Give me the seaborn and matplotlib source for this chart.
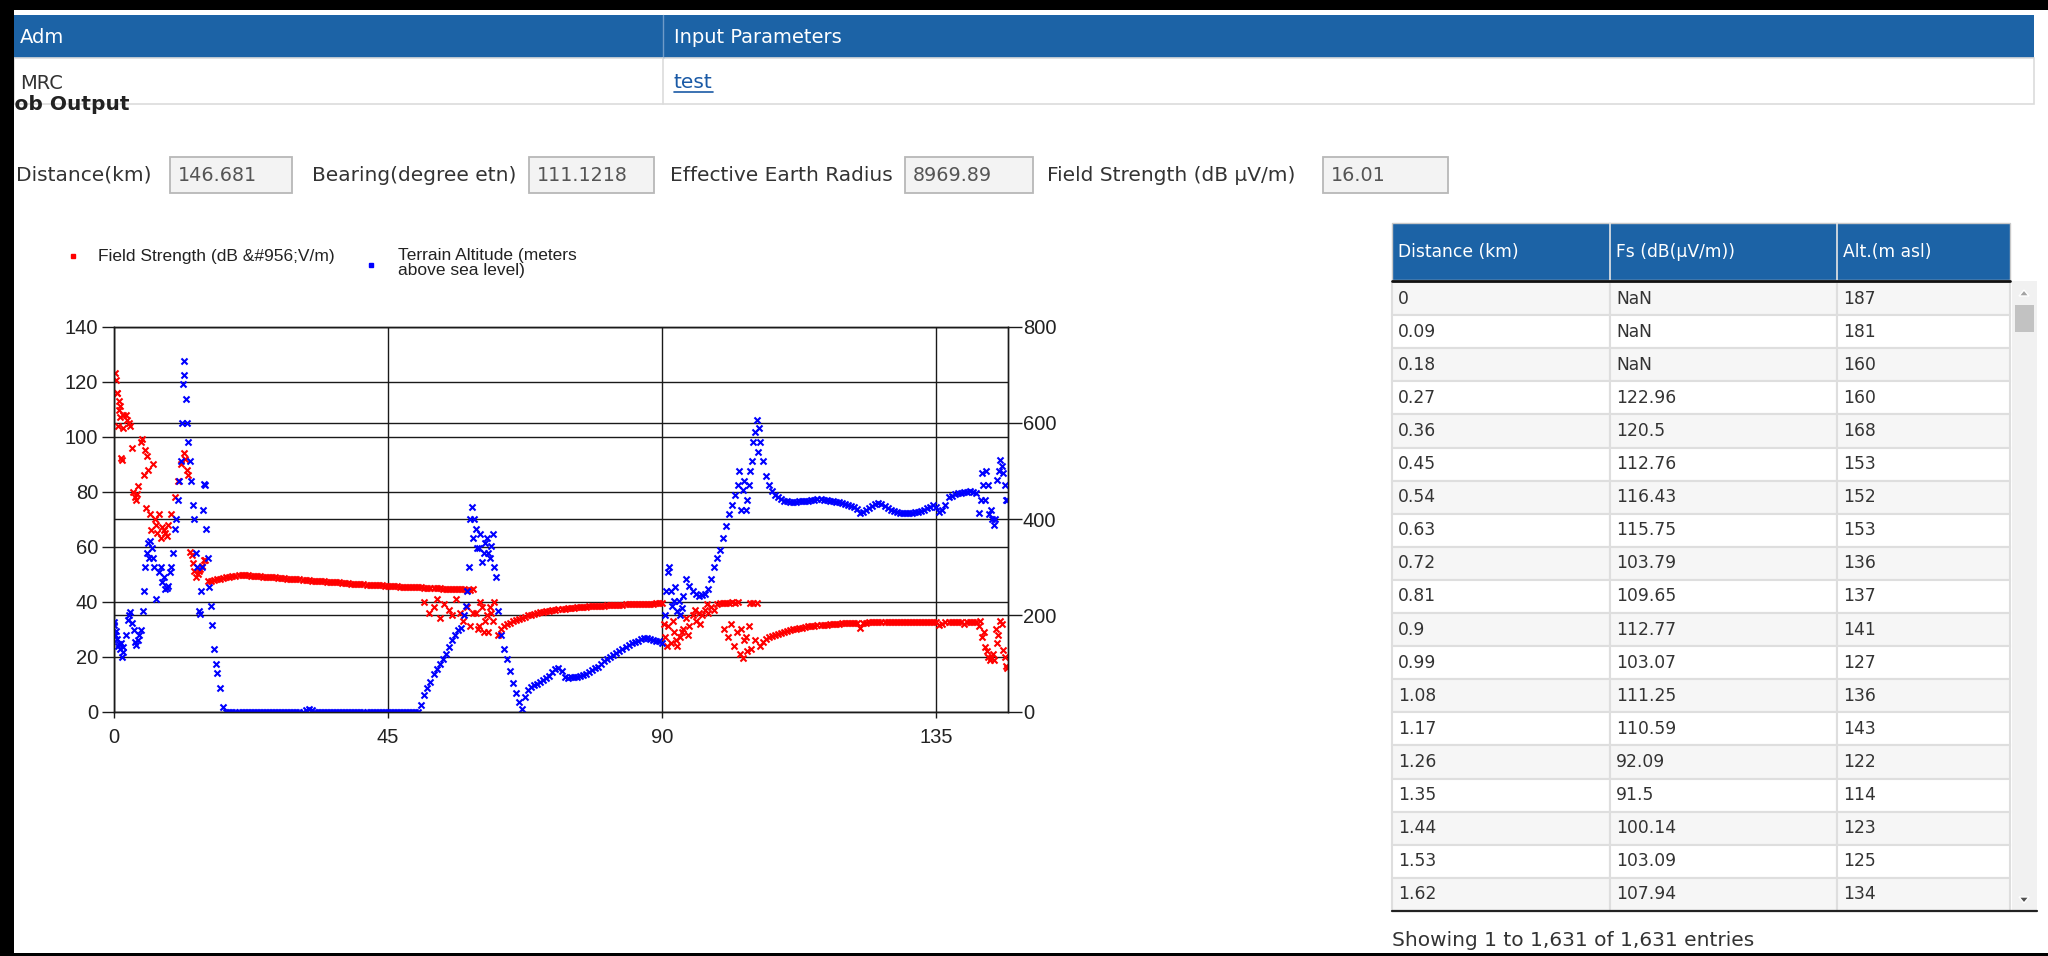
import numpy as np
import pandas as pd
import matplotlib
matplotlib.use("Agg")
import matplotlib.pyplot as plt
from matplotlib.patches import Rectangle, Polygon
import seaborn as sns

# ---------------- values ----------------
header_cols = ["Adm", "Input Parameters"]
header_vals = ["MRC", "test"]

param_labels = ["Distance(km)", "Bearing(degree etn)", "Effective Earth Radius",
                "Field Strength (dB µV/m)"]
param_values = ["146.681", "111.1218", "8969.89", "16.01"]

table_cols = ["Distance (km)", "Fs (dB(µV/m))", "Alt.(m asl)"]
table_dist = ["0", "0.09", "0.18", "0.27", "0.36", "0.45", "0.54", "0.63", "0.72", "0.81",
              "0.9", "0.99", "1.08", "1.17", "1.26", "1.35", "1.44", "1.53", "1.62"]
table_fs = ["NaN", "NaN", "NaN", "122.96", "120.5", "112.76", "116.43", "115.75", "103.79",
            "109.65", "112.77", "103.07", "111.25", "110.59", "92.09", "91.5", "100.14",
            "103.09", "107.94"]
table_alt = ["187", "181", "160", "160", "168", "153", "152", "153", "136", "137", "141",
             "127", "136", "143", "122", "114", "123", "125", "134"]
entries_note = "Showing 1 to 1,631 of 1,631 entries"

# profile sampled every 0.5 km (0 .. 146.5 km)
step_km = 0.5
total_km = 146.681
fs_db = [
    np.nan, 116, 107, 103, 108, 105, 96, 78, 82, 98,
    86, 93, 72, 90, 68, 72, 67, 65, 68, 72,
    78, 84, 90, 94, 88, 58, 54, 49, 51, 53,
    55, 47.5, 47.5, 48, 48.2, 48.4, 48.6, 48.8, 49, 49.2,
    49.5, 49.6, 49.7, 49.7, 49.6, 49.5, 49.4, 49.3, 49.2, 49.1,
    49.0, 48.9, 48.9, 48.8, 48.7, 48.6, 48.5, 48.4, 48.3, 48.2,
    48.2, 48.1, 48.0, 47.9, 47.8, 47.7, 47.6, 47.5, 47.4, 47.4,
    47.3, 47.2, 47.1, 47.0, 47.0, 46.9, 46.8, 46.7, 46.6, 46.5,
    46.5, 46.4, 46.3, 46.2, 46.2, 46.1, 46.0, 45.9, 45.9, 45.8,
    45.7, 45.7, 45.6, 45.6, 45.5, 45.5, 45.4, 45.4, 45.3, 45.3,
    45.2, 45.2, 45.1, 45.1, 45.0, 45.0, 44.9, 44.9, 44.8, 44.8,
    44.7, 44.7, 44.6, 44.6, 44.5, 44.5, 44.4, 44.4, 44.6, 36,
    31, 38, 33, 29, 36, 40, 28, 30, 31, 31.8,
    32.4, 32.9, 33.3, 33.7, 34.1, 34.5, 35.0, 35.3, 35.6, 35.9,
    36.2, 36.4, 36.6, 36.8, 37.0, 37.1, 37.3, 37.4, 37.5, 37.6,
    37.7, 37.8, 37.9, 38.0, 38.1, 38.2, 38.3, 38.3, 38.4, 38.5,
    38.5, 38.6, 38.7, 38.7, 38.8, 38.8, 38.9, 38.9, 39.0, 39.0,
    39.1, 39.1, 39.2, 39.2, 39.2, 39.3, 39.3, 39.3, 39.4, 39.4,
    39.4, 27, 31, 25, 29, 24, 27, 30, 34, 31,
    35, 33, 36, 35, 37, 36, 38, 37, 39, 39.6,
    39.7, 39.6, 39.7, 39.8, 39.7, 39.8, 30, 26, 22, 39.6,
    39.7, 39.6, 24, 25.5, 26.4, 27.0, 27.5, 28.0, 28.4, 28.8,
    29.1, 29.4, 29.7, 30.0, 30.2, 30.4, 30.6, 30.8, 31.0, 31.1,
    31.3, 31.4, 31.5, 31.6, 31.7, 31.8, 31.9, 32.0, 32.0, 32.1,
    32.2, 32.2, 32.3, 32.3, 32.3, 30.5, 32.4, 32.4, 32.5, 32.5,
    32.5, 32.6, 32.6, 32.6, 32.6, 32.7, 32.7, 32.7, 32.7, 32.7,
    32.7, 32.7, 32.7, 32.7, 32.7, 32.7, 32.7, 32.7, 32.7, 32.7,
    32.6, 31.5, 32.0, 32.6, 32.6, 32.7, 32.7, 32.7, 32.6, 31.8,
    32.6, 32.6, 32.6, 32.6, 31, 27, 23.6, 20, 19.4, 18.8,
    25, 33, 22.4, 16.5,
]
alt_m = [
    187, 152, 130, 124, 160, 200, 185, 145, 150, 170,
    250, 330, 355, 320, 235, 290, 270, 256, 262, 300,
    380, 440, 520, 700, 600, 520, 430, 330, 210, 300,
    470, 320, 220, 130, 80, 50, 10, 0, 0, 0,
    0, 0, 0, 0, 0, 0, 0, 0, 0, 0,
    0, 0, 0, 0, 0, 0, 0, 0, 0, 0,
    0, 0, 0, 3, 5, 3, 0, 0, 0, 0,
    0, 0, 0, 0, 0, 0, 0, 0, 0, 0,
    0, 0, 0, 0, 0, 0, 0, 0, 0, 0,
    0, 0, 0, 0, 0, 0, 0, 0, 0, 0,
    0, 15, 35, 50, 62, 78, 88, 100, 110, 120,
    135, 150, 160, 170, 175, 200, 250, 400, 360, 380,
    340, 310, 350, 330, 345, 300, 210, 160, 130, 110,
    85, 60, 40, 20, 5, 30, 45, 52, 55, 58,
    62, 66, 70, 75, 82, 88, 90, 85, 72, 70,
    72, 73, 73, 74, 76, 79, 82, 86, 90, 94,
    100, 105, 110, 114, 118, 123, 127, 131, 135, 138,
    142, 145, 148, 151, 153, 153, 152, 150, 148, 146,
    142, 200, 290, 250, 230, 210, 200, 240, 275, 262,
    250, 245, 240, 242, 245, 255, 275, 300, 320, 335,
    360, 385, 410, 430, 450, 470, 420, 480, 440, 500,
    560, 605, 560, 520, 490, 470, 458, 450, 445, 441,
    438, 437, 436, 436, 436, 437, 437, 438, 438, 439,
    440, 441, 441, 440, 439, 438, 437, 436, 435, 433,
    432, 430, 428, 425, 422, 412, 415, 420, 424, 428,
    432, 434, 432, 428, 424, 420, 417, 414, 413, 412,
    412, 412, 413, 414, 415, 417, 420, 423, 426, 429,
    425, 415, 418, 430, 445, 448, 452, 454, 455, 456,
    457, 458, 457, 455, 412, 495, 440, 470, 420, 388,
    481, 523, 495, 440,
]

# extra scattered samples in the noisy stretches
fs_extra_km = [0.27, 0.36, 0.63, 0.72, 0.81, 0.9, 1.08, 1.26, 1.35, 1.62, 2.2, 2.7, 3.2, 3.7,
               3.9, 4.7, 5.2, 5.7, 5.3, 6.2, 6.8, 7.2, 7.7, 8.2, 8.8, 11.7, 12.2, 12.8, 13.2,
               13.8, 14.2, 14.8,
               51, 51.8, 52.5, 53, 53.5, 54.2, 55, 55.5, 56.2, 56.8, 57.4, 58, 58.5, 59,
               59.8, 60.2, 60.8, 61.2, 61.8, 62.3,
               90.3, 90.8, 91.8, 92.3, 93.2, 94.3, 95.4, 96.2, 97.4,
               100.2, 100.8, 101.3, 101.8, 102.3, 102.8, 103.2, 103.8, 104.2, 104.6, 105.2,
               142.2, 142.8, 143.3, 143.8, 144.3, 144.8, 145.2, 145.8, 146.2, 146.68]
fs_extra_db = [122.96, 120.5, 115.75, 103.79, 109.65, 112.77, 111.25, 92.09, 91.5, 107.94,
               106, 104, 80, 77, 79, 99, 95, 88, 74, 66, 70, 65, 63, 66, 64, 92, 86, 57, 51,
               50, 52, 55,
               40, 36, 38, 41, 34, 39, 37, 35, 41, 36, 33, 38, 31, 36,
               30, 40, 29, 35, 38, 33,
               32, 24, 33, 26, 29, 28, 37, 32, 39,
               30, 27, 32, 24, 29, 21, 19.5, 27, 31, 23, 26,
               33, 29, 22, 19, 21, 30, 28, 32, 20, 16.01]
alt_extra_km = [0.09, 0.18, 0.27, 0.36, 0.72, 0.9, 1.17, 1.35, 1.62, 2.3, 2.7, 3.3, 3.7, 4.2,
                4.8, 5.2, 5.6, 5.8, 6.3, 6.6, 7.7, 8.2, 8.8, 9.2, 9.7, 10.2, 10.7, 11.2, 11.4,
                11.6, 11.8, 12.2, 12.7, 13.2, 13.7, 14.1, 14.3, 14.7, 14.9, 15.2, 15.7, 16.2,
                16.8,
                57.8, 58.3, 58.8, 59.2, 59.7, 60.2, 60.7, 61.3, 61.8, 62.2, 62.7,
                90.7, 91.2, 91.7, 92.2, 92.8, 93.3,
                102.7, 103.2, 103.7, 104.2, 104.7, 105.2, 105.7, 105.9,
                142.3, 142.7, 143.2, 143.7, 144.2, 144.7, 145.3, 145.7, 146.3, 146.68]
alt_extra_m = [181, 160, 160, 168, 136, 141, 143, 114, 134, 190, 208, 170, 138, 160,
               210, 300, 350, 320, 340, 300, 300, 280, 258, 290, 330, 400, 480, 600, 680,
               729, 650, 560, 480, 400, 300, 204, 250, 420, 474, 380, 260, 180,
               100,
               220, 300, 426, 400, 340, 370, 330, 360, 320, 370, 280,
               250, 301, 220, 260, 230, 215,
               500, 460, 420, 470, 520, 580, 540, 590,
               440, 470, 500, 410, 400, 400, 500, 510, 470, 440]

fs_df = pd.concat([
    pd.DataFrame({"km": np.arange(len(fs_db)) * step_km, "fs": fs_db}),
    pd.DataFrame({"km": fs_extra_km, "fs": fs_extra_db}),
]).dropna()
alt_df = pd.concat([
    pd.DataFrame({"km": np.arange(len(alt_m)) * step_km, "alt": alt_m}),
    pd.DataFrame({"km": alt_extra_km, "alt": alt_extra_m}),
])

# ---------------- page ----------------
sns.set_theme(style="white")
plt.rcParams["font.family"] = ["DejaVu Sans"]

BLUE = "#1c63a6"
TXT = "#333333"

fig = plt.figure(figsize=(20.48, 9.56), dpi=100)
page = fig.add_axes([0, 0, 1, 1])
page.set_xlim(0, 2048)
page.set_ylim(956, 0)
page.axis("off")


def box(x0, y0, x1, y1, **kw):
    page.add_patch(Rectangle((x0, y0), x1 - x0, y1 - y0, **kw))


# header table
box(14, 15, 2034, 58, fc=BLUE, ec="none")
page.plot([663, 663], [15, 58], color="#6f9bc8", lw=1)
box(14, 58, 2034, 104, fc="white", ec="#dcdcdc", lw=1.2)
page.plot([663, 663], [58, 104], color="#dcdcdc", lw=1.2)
page.text(20, 37, header_cols[0], color="white", fontsize=14, va="center")
page.text(674, 37, header_cols[1], color="white", fontsize=14, va="center")
page.text(20, 83, header_vals[0], color=TXT, fontsize=14, va="center")
page.text(674, 82, header_vals[1], color="#1a5aa6", fontsize=14.5, va="center")
page.plot([674, 713], [92, 92], color="#1a5aa6", lw=1.2)
page.text(7, 104, "Job Output", color="#222222", fontsize=14.5, fontweight="bold",
          va="center")

# input parameter boxes
label_x = [16, 312, 670, 1047]
box_x = [(170, 292), (529, 654), (905, 1033), (1323, 1448)]
for lab, val, lx, (b0, b1) in zip(param_labels, param_values, label_x, box_x):
    page.text(lx, 175, lab, color=TXT, fontsize=14.5, va="center")
    box(b0, 157, b1, 193, fc="#f3f3f3", ec="#b8b8b8", lw=1.3)
    page.text(b0 + 8, 175, val, color="#555555", fontsize=13.8, va="center")

# legend of the chart
page.plot([73], [256], marker="s", ms=2.2, color="red", ls="none")
page.text(98, 256, "Field Strength (dB &#956;V/m)", fontsize=12.5, va="center",
          color="#222222", family="Liberation Sans")
page.plot([371], [265], marker="s", ms=2.2, color="blue", ls="none")
page.text(398, 263, "Terrain Altitude (meters\nabove sea level)", fontsize=12.5,
          va="center", color="#222222", family="Liberation Sans", linespacing=1.0)

# data table
col_edges = [1392, 1610, 1837, 2010]
box(1392, 223, 2010, 280, fc=BLUE, ec="#c8c8c8", lw=1)
for x in col_edges[1:-1]:
    page.plot([x, x], [223, 280], color="#e6e6e6", lw=1.2)
for j, name in enumerate(table_cols):
    page.text(col_edges[j] + 6, 252, name, color="white", fontsize=12.3, va="center")
row_h = 33.1
for i, row in enumerate(zip(table_dist, table_fs, table_alt)):
    y0 = 282 + i * row_h
    fc = "#f6f6f6" if i % 2 == 0 else "white"
    for j, cell in enumerate(row):
        box(col_edges[j], y0, col_edges[j + 1], y0 + row_h, fc=fc, ec="#dedede", lw=1.5)
        page.text(col_edges[j] + 6, y0 + row_h / 2, cell, color=TXT, fontsize=12.3,
                  va="center")
page.plot([1392, 2010], [281, 281], color="#111111", lw=2)
box(2012, 281, 2037, 911, fc="#f1f1f1", ec="none")
box(2015, 305, 2034, 332, fc="#c2c2c2", ec="none")
page.add_patch(Polygon([(2019, 296), (2029, 296), (2024, 290)], fc="#a3a3a3"))
page.add_patch(Polygon([(2019, 897), (2029, 897), (2024, 903)], fc="#505050"))
page.plot([1392, 2037], [911, 911], color="#222222", lw=1.6)
page.text(1392, 941, entries_note, color=TXT, fontsize=14.5, va="center")

# black frame of the screenshot
box(0, 0, 2048, 10, fc="black", ec="none", zorder=10)
box(0, 0, 14, 956, fc="black", ec="none", zorder=10)
box(0, 953, 2048, 956, fc="black", ec="none", zorder=10)

# ---------------- chart ----------------
ax = fig.add_axes([113.6 / 2048, (956 - 711.8) / 956,
                   (1007.5 - 113.6) / 2048, (711.8 - 326.5) / 956])
ax.set_facecolor("white")
ax2 = ax.twinx()

sns.scatterplot(data=fs_df, x="km", y="fs", ax=ax, marker="x", s=19,
                color="red", linewidth=1.5)
sns.scatterplot(data=alt_df, x="km", y="alt", ax=ax2, marker="x", s=19,
                color="blue", linewidth=1.5)

ax.set_xlim(0, total_km)
ax.set_ylim(0, 140)
ax2.set_ylim(0, 800)
ax.set_xticks([0, 45, 90, 135])
ax.set_yticks(range(0, 141, 20))
ax2.set_yticks(range(0, 801, 200))
# right-axis gridlines expressed in left-axis units
ax.set_yticks([v * 140 / 800 for v in (200, 400, 600)], minor=True)
ax.set_axisbelow(True)
ax.xaxis.grid(True, which="major", color="#1a1a1a", lw=1.0)
ax.yaxis.grid(True, which="both", color="#1a1a1a", lw=1.0)
ax2.grid(False)
for a in (ax, ax2):
    a.set_xlabel("")
    a.set_ylabel("")
    for sp in a.spines.values():
        sp.set_color("#1a1a1a")
        sp.set_linewidth(1.0)

ax.tick_params(axis="y", which="major", direction="out", left=True, length=9, width=1,
               color="#1a1a1a", pad=2, labelsize=14.5, labelcolor="#222222")
ax.tick_params(axis="y", which="minor", left=False, length=0)
ax.tick_params(axis="x", direction="out", bottom=True, length=4, width=1,
               color="#1a1a1a", pad=8, labelsize=14.5, labelcolor="#222222")
ax2.tick_params(axis="y", direction="out", right=True, length=10, width=1,
                color="#1a1a1a", pad=1, labelsize=14.5, labelcolor="#222222")
for lbl in ax.get_xticklabels() + ax.get_yticklabels() + ax2.get_yticklabels():
    lbl.set_fontfamily("Liberation Sans")

fig.savefig("out.png", dpi=100)
